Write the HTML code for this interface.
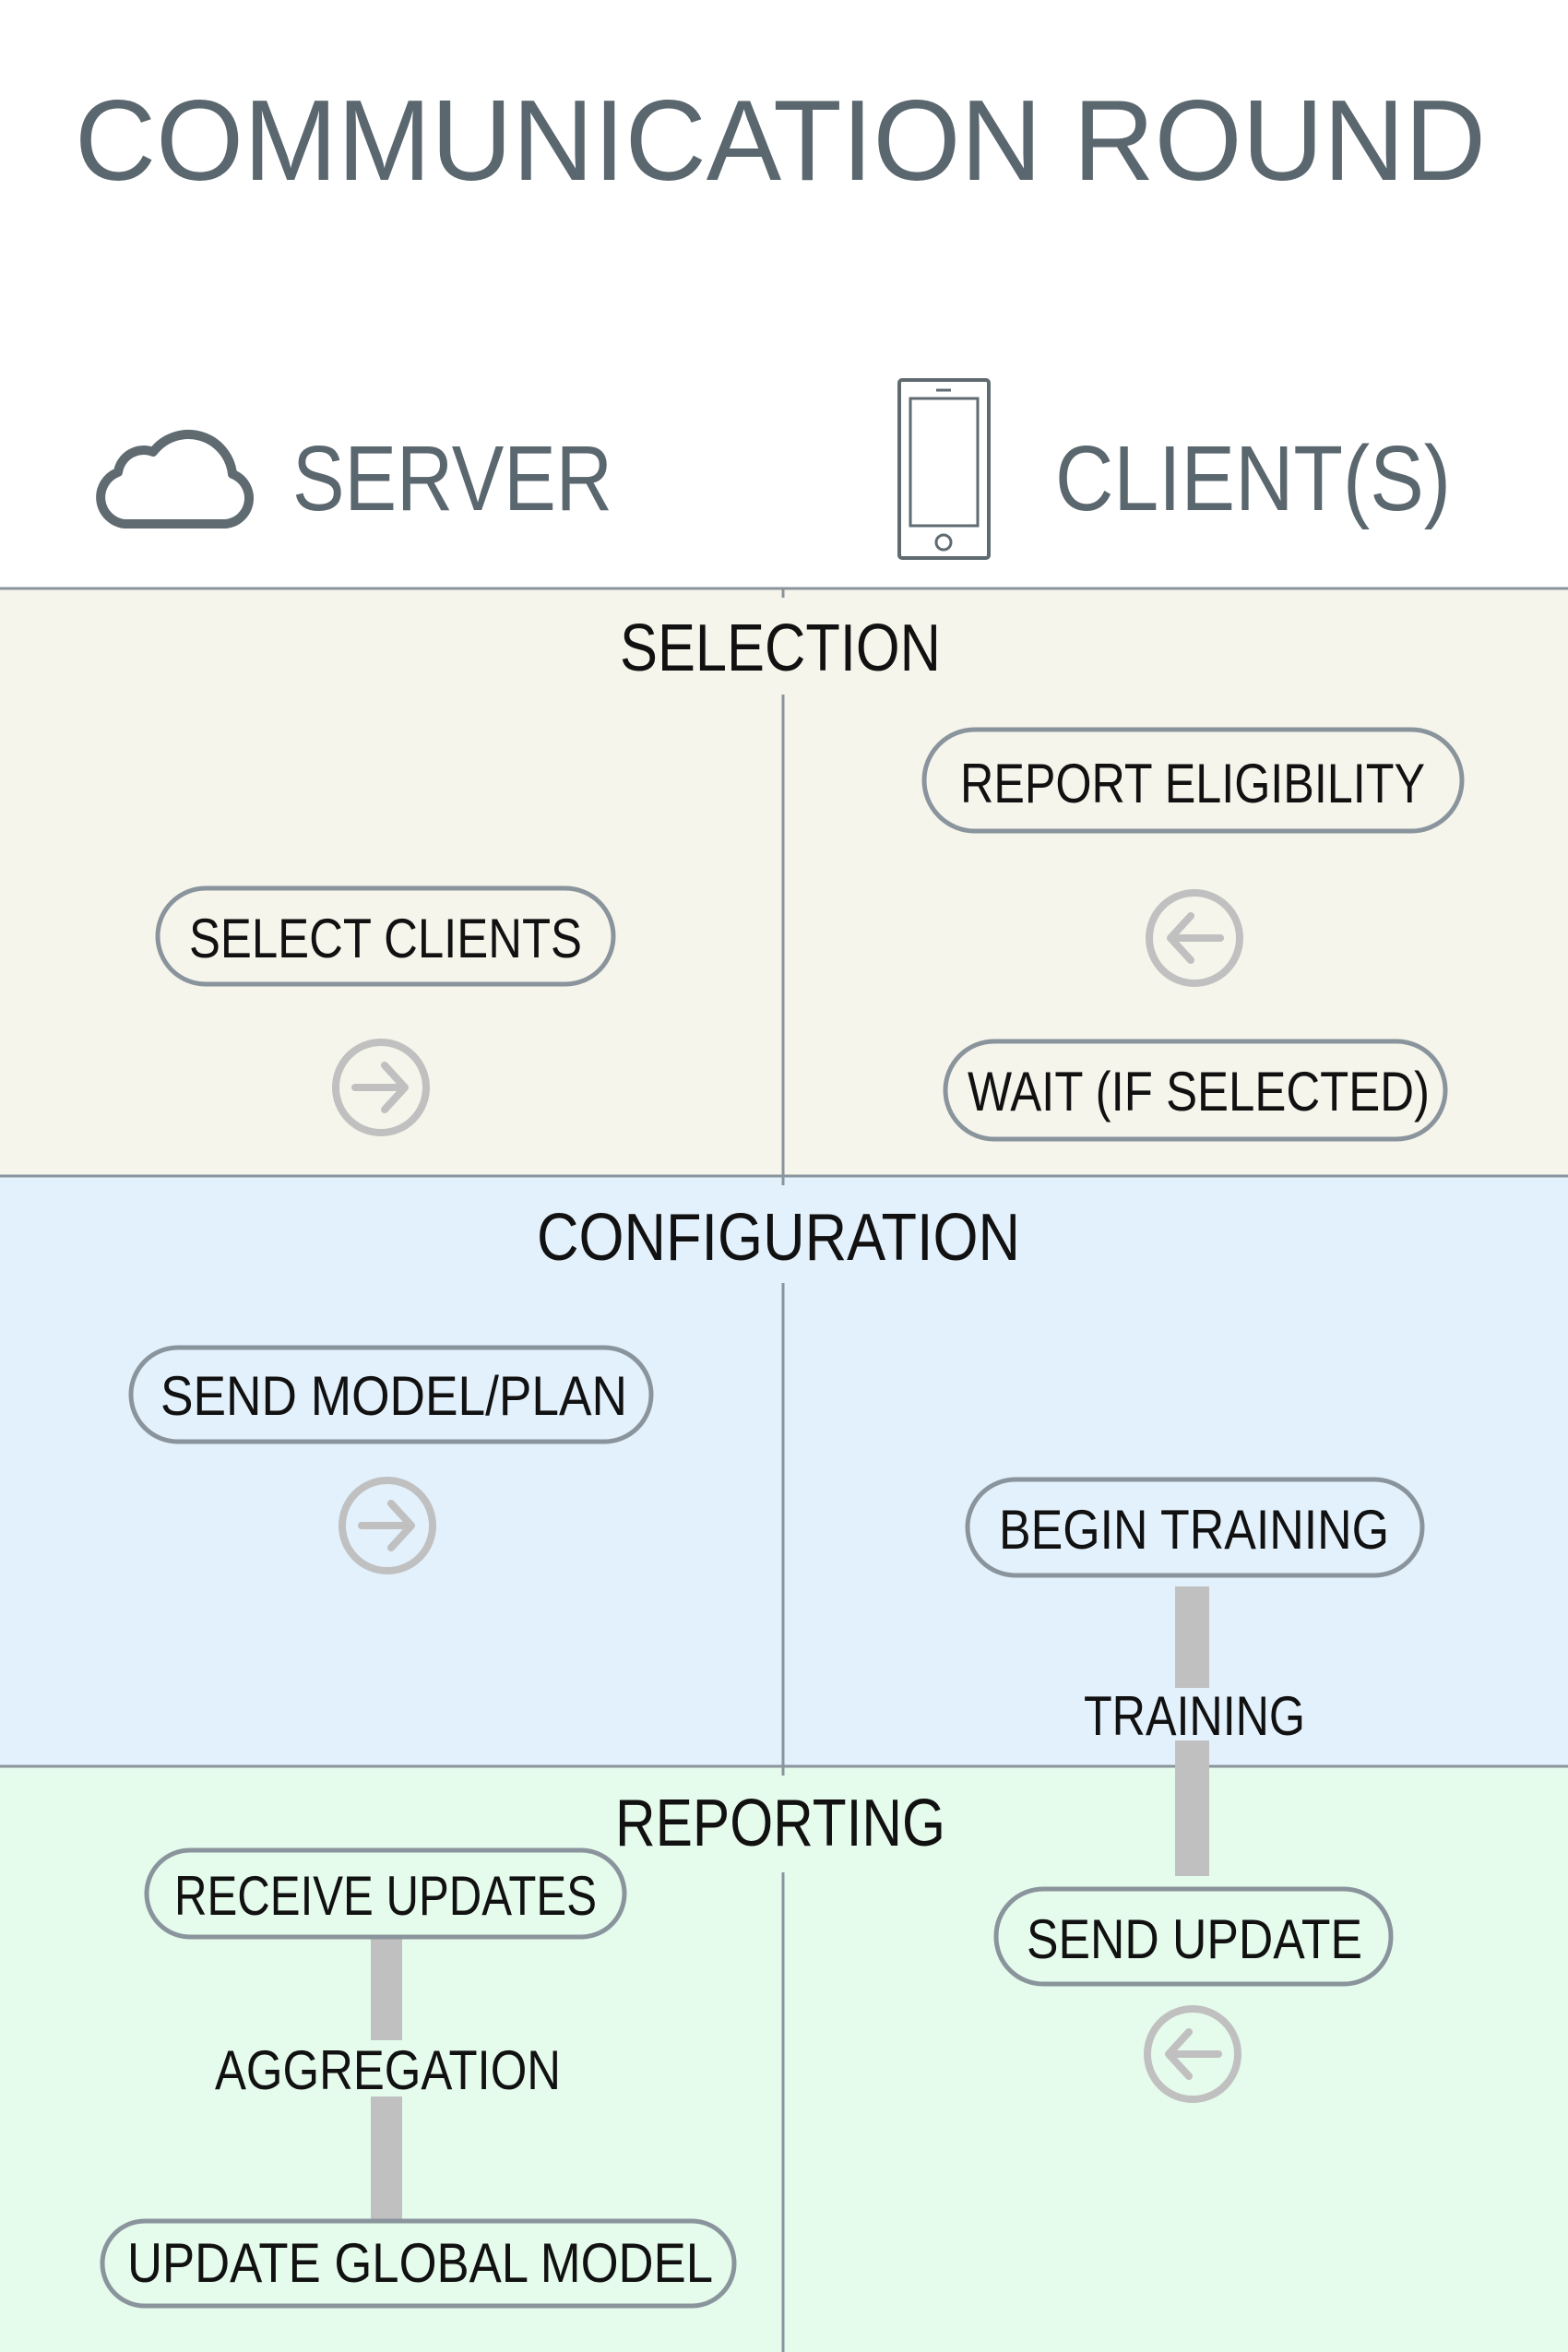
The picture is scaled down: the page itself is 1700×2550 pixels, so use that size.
<!DOCTYPE html>
<html><head><meta charset="utf-8"><style>html,body{margin:0;padding:0;background:#fff}svg{display:block}</style></head>
<body>
<svg width="1700" height="2550" viewBox="0 0 1700 2550" xmlns="http://www.w3.org/2000/svg" font-family="Liberation Sans, sans-serif">
<rect width="1700" height="2550" fill="#fff"/>
<text x="81" y="195" font-size="124" fill="#5a676e" textLength="1530" lengthAdjust="spacingAndGlyphs">COMMUNICATION ROUND</text>
<!-- cloud -->
<path d="M135,568 H245 A28,28 0 0 0 252,514 A48,48 0 0 0 166,490 A28,28 0 0 0 128,512 A29,29 0 0 0 135,568 Z" fill="none" stroke="#5f6b71" stroke-width="10" stroke-linejoin="round"/>
<text x="317" y="553" font-size="100" fill="#5a676e" textLength="347" lengthAdjust="spacingAndGlyphs">SERVER</text>
<!-- phone -->
<rect x="975" y="412" width="97" height="193" rx="3" fill="none" stroke="#5f6b71" stroke-width="4"/>
<rect x="987" y="432" width="73" height="138" fill="none" stroke="#5f6b71" stroke-width="3"/>
<line x1="1015" y1="423" x2="1031" y2="423" stroke="#5f6b71" stroke-width="3"/>
<circle cx="1023" cy="588" r="8" fill="none" stroke="#5f6b71" stroke-width="3"/>
<text x="1144" y="553" font-size="100" fill="#5a676e" textLength="429" lengthAdjust="spacingAndGlyphs">CLIENT(S)</text>
<!-- bands -->
<rect x="0" y="638" width="1700" height="637" fill="#f5f5ec"/>
<rect x="0" y="1275" width="1700" height="640" fill="#e3f1fc"/>
<rect x="0" y="1915" width="1700" height="635" fill="#e5fbec"/>
<g stroke="#8a949c" stroke-width="3">
<line x1="0" y1="638" x2="1700" y2="638"/>
<line x1="0" y1="1275" x2="1700" y2="1275"/>
<line x1="0" y1="1915" x2="1700" y2="1915"/>
<line x1="849" y1="638" x2="849" y2="648"/>
<line x1="849" y1="753" x2="849" y2="1285"/>
<line x1="849" y1="1391" x2="849" y2="1925"/>
<line x1="849" y1="2030" x2="849" y2="2550"/>
</g>
<g fill="#111">
<text x="672" y="727" font-size="72" textLength="348" lengthAdjust="spacingAndGlyphs">SELECTION</text>
<text x="582" y="1366" font-size="72" textLength="524" lengthAdjust="spacingAndGlyphs">CONFIGURATION</text>
<text x="667" y="2001" font-size="72" textLength="358" lengthAdjust="spacingAndGlyphs">REPORTING</text>
</g>
<!-- bars -->
<g fill="#c0c0c0">
<rect x="1274" y="1720" width="37" height="110"/>
<rect x="1274" y="1887" width="37" height="147"/>
<rect x="402" y="2100" width="34" height="112"/>
<rect x="402" y="2273" width="34" height="135"/>
</g>
<!-- pills -->
<g stroke="#8a949c" stroke-width="5">
<rect x="1002" y="791" width="583" height="110" rx="55" fill="#f5f5ec"/>
<rect x="171" y="963" width="494" height="104" rx="52" fill="#f5f5ec"/>
<rect x="1025" y="1129" width="542" height="106" rx="53" fill="#f5f5ec"/>
<rect x="142" y="1461" width="564" height="102" rx="51" fill="#e3f1fc"/>
<rect x="1049" y="1604" width="493" height="104" rx="52" fill="#e3f1fc"/>
<rect x="1080" y="2048" width="428" height="103" rx="51" fill="#e5fbec"/>
<rect x="159" y="2006" width="518" height="94" rx="47" fill="#e5fbec"/>
<rect x="111" y="2408" width="685" height="92" rx="46" fill="#e5fbec"/>
</g>
<g fill="#111" font-size="60">
<text x="1041" y="870" textLength="504" lengthAdjust="spacingAndGlyphs">REPORT ELIGIBILITY</text>
<text x="205" y="1038" textLength="426" lengthAdjust="spacingAndGlyphs">SELECT CLIENTS</text>
<text x="1049" y="1204" textLength="501" lengthAdjust="spacingAndGlyphs">WAIT (IF SELECTED)</text>
<text x="174" y="1534" textLength="506" lengthAdjust="spacingAndGlyphs">SEND MODEL/PLAN</text>
<text x="1083" y="1679" textLength="423" lengthAdjust="spacingAndGlyphs">BEGIN TRAINING</text>
<text x="1175" y="1881" textLength="240" lengthAdjust="spacingAndGlyphs">TRAINING</text>
<text x="1113" y="2123" textLength="364" lengthAdjust="spacingAndGlyphs">SEND UPDATE</text>
<text x="189" y="2076" textLength="458" lengthAdjust="spacingAndGlyphs">RECEIVE UPDATES</text>
<text x="233" y="2265" textLength="375" lengthAdjust="spacingAndGlyphs">AGGREGATION</text>
<text x="138" y="2474" textLength="635" lengthAdjust="spacingAndGlyphs">UPDATE GLOBAL MODEL</text>
</g>
<!-- arrow circles -->
<g fill="none" stroke="#c0c0c0" stroke-width="8" stroke-linecap="round" stroke-linejoin="round">
<circle cx="1295" cy="1017" r="49"/>
<path d="M1323,1017 H1269 M1291,993 L1269,1017 L1291,1041"/>
<circle cx="413" cy="1179" r="49"/>
<path d="M385,1179 H439 M417,1155 L439,1179 L417,1203"/>
<circle cx="420" cy="1654" r="49"/>
<path d="M392,1654 H446 M424,1630 L446,1654 L424,1678"/>
<circle cx="1293" cy="2227" r="49"/>
<path d="M1321,2227 H1267 M1289,2203 L1267,2227 L1289,2251"/>
</g>
</svg>
</body></html>
